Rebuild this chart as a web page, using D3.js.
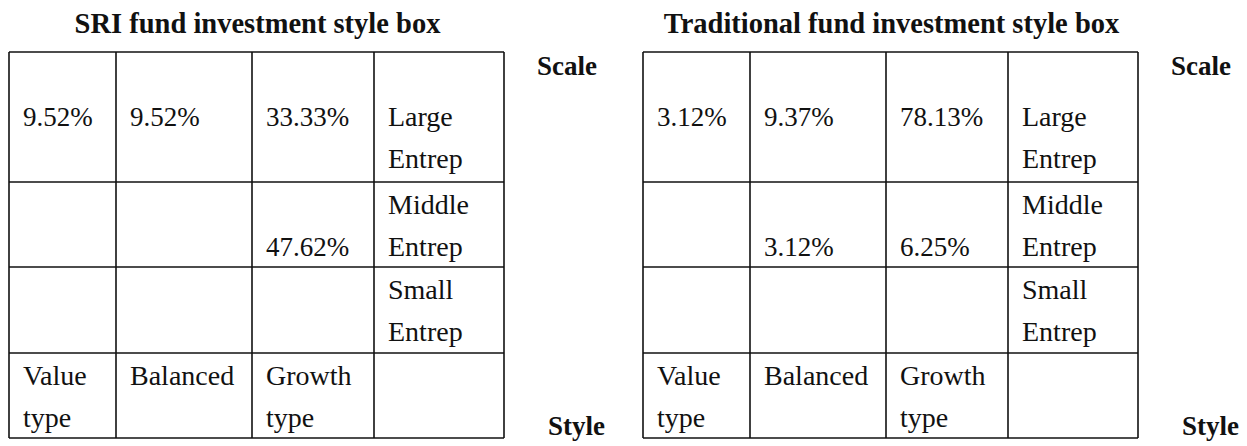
<!DOCTYPE html>
<html>
<head>
<meta charset="utf-8">
<script src="https://cdn.jsdelivr.net/npm/d3@7"></script>
<style>
  html, body { margin: 0; padding: 0; background: #fff; }
  svg text { font-family: "Liberation Serif", "Times New Roman", serif; fill: #111; }
</style>
</head>
<body>
<svg id="chart" width="1247" height="446"></svg>
<script>
// ---- data ----
const titles = ["SRI fund investment style box", "Traditional fund investment style box"];
const styleLabels = [["Value", "type"], ["Balanced"], ["Growth", "type"]];
const scaleLabels = [["Large", "Entrep"], ["Middle", "Entrep"], ["Small", "Entrep"]];
const scaleNames = ["Large", "Middle", "Small"];
const styleNames = ["Value", "Balanced", "Growth"];
// values[scaleRow][styleCol], percent; null = empty cell
const sriLarge = [9.52, 9.52, 33.33];
const sriMiddle = [null, null, 47.62];
const sriSmall = [null, null, null];
const tradLarge = [3.12, 9.37, 78.13];
const tradMiddle = [null, 3.12, 6.25];
const tradSmall = [null, null, null];
const axisLabels = ["Scale", "Style"];

// ---- layout ----
const colWidths = [107, 136, 122, 130];
const rowHeights = [130, 85, 86, 85];
const tableLefts = [9, 643];
const tableTop = 52;
const lineGap = 42;
const firstBase = 32;
const padX = 14;
const numSize = 27;
const wordSize = 28;

const svg = d3.select("#chart");

const colEdges = [0, ...d3.cumsum(colWidths)];
const rowEdges = [0, ...d3.cumsum(rowHeights)].map(v => v + tableTop);
const tableW = colEdges[colEdges.length - 1];

const boxes = [
  { title: titles[0], rows: [sriLarge, sriMiddle, sriSmall] },
  { title: titles[1], rows: [tradLarge, tradMiddle, tradSmall] }
];

boxes.forEach((box, bi) => {
  const x0 = tableLefts[bi];
  const x = d3.scaleOrdinal().domain([0, 1, 2, 3, 4]).range(colEdges.map(e => e + x0));
  const g = svg.append("g");

  // title
  g.append("text")
    .attr("x", x0 + tableW / 2 + 1)
    .attr("y", 33)
    .attr("text-anchor", "middle")
    .attr("font-weight", "bold")
    .attr("font-size", 28.5)
    .text(box.title);

  // grid lines
  g.selectAll("line.h").data(rowEdges).join("line")
    .attr("class", "h")
    .attr("x1", x(0)).attr("x2", x(4))
    .attr("y1", d => d).attr("y2", d => d)
    .attr("stroke", "#111").attr("stroke-width", 1.6);
  g.selectAll("line.v").data(colEdges.map((e, i) => i)).join("line")
    .attr("class", "v")
    .attr("x1", d => x(d)).attr("x2", d => x(d))
    .attr("y1", rowEdges[0]).attr("y2", rowEdges[rowEdges.length - 1])
    .attr("stroke", "#111").attr("stroke-width", 1.6);

  // line index offset per row: first row has an empty line first
  const lineStart = [1, 0, 0, 0];
  const baseY = (r, k) => rowEdges[r] + firstBase + lineGap * (lineStart[r] + k);

  // value cells
  const cells = [];
  box.rows.forEach((vals, r) => {
    vals.forEach((v, c) => {
      if (v !== null) cells.push({ r, c, v });
    });
  });
  g.selectAll("text.val").data(cells).join("text")
    .attr("class", "val")
    .attr("x", d => x(d.c) + padX)
    .attr("y", d => baseY(d.r, d.r === 1 ? 1 : 0))
    .attr("font-size", numSize)
    .text(d => d.v.toFixed(2) + "%");

  // scale labels (column 4)
  scaleLabels.forEach((lines, r) => {
    lines.forEach((t, k) => {
      g.append("text")
        .attr("x", x(3) + padX)
        .attr("y", baseY(r, k))
        .attr("font-size", wordSize)
        .text(t);
    });
  });

  // style labels (row 4)
  styleLabels.forEach((lines, c) => {
    lines.forEach((t, k) => {
      g.append("text")
        .attr("x", x(c) + padX)
        .attr("y", baseY(3, k))
        .attr("font-size", wordSize)
        .text(t);
    });
  });

  // axis labels
  g.append("text")
    .attr("x", x(4) + 33)
    .attr("y", 75)
    .attr("font-weight", "bold")
    .attr("font-size", numSize)
    .text(axisLabels[0]);
  g.append("text")
    .attr("x", x(4) + 44)
    .attr("y", 435)
    .attr("font-weight", "bold")
    .attr("font-size", numSize)
    .text(axisLabels[1]);
});
</script>
</body>
</html>
